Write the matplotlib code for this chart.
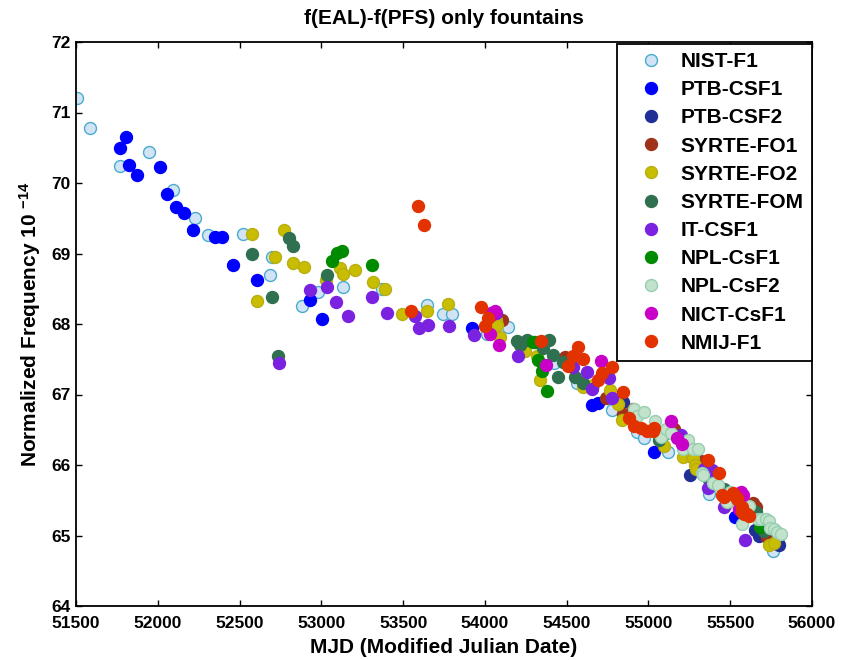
import matplotlib
matplotlib.use('Agg')
import matplotlib.pyplot as plt

plt.rcParams['font.family'] = ['Liberation Sans', 'DejaVu Sans']
plt.rcParams['font.weight'] = 'bold'
plt.rcParams['mathtext.fontset'] = 'custom'
plt.rcParams['mathtext.rm'] = 'Liberation Sans:bold'
plt.rcParams['mathtext.bf'] = 'Liberation Sans:bold'
plt.rcParams['mathtext.default'] = 'bf'

# ---------------- data (MJD, normalized frequency 1e-14) ----------------
nist_mjd = [51506, 51586, 51771, 51946, 52095, 52228, 52307, 52523, 52686, 52697, 52880, 52981,
            53134, 53369, 53648, 53742, 53801, 54011, 54139, 54422, 54561, 54779, 54928, 54973,
            55122, 55370, 55763]
nist_val = [71.21, 70.78, 70.24, 70.44, 69.90, 69.51, 69.26, 69.27, 68.70, 68.95, 68.26, 68.46,
            68.52, 68.49, 68.27, 68.14, 68.14, 67.86, 67.96, 67.45, 67.16, 66.78, 66.47, 66.39,
            66.18, 65.59, 64.78]

ptb1_mjd = [51767, 51806, 51826, 51871, 52014, 52056, 52113, 52158, 52217, 52350, 52391, 52462,
            52609, 52931, 53006, 53919, 54653, 54690, 55034, 55527]
ptb1_val = [70.49, 70.65, 70.25, 70.12, 70.23, 69.84, 69.66, 69.58, 69.34, 69.24, 69.23, 68.84,
            68.63, 68.34, 68.07, 67.94, 66.85, 66.88, 66.19, 65.26]

ptb2_mjd = [54846, 55257, 55651, 55676, 55794, 55800]
ptb2_val = [66.90, 65.86, 65.08, 64.99, 64.89, 64.87]

fo1_mjd = [54102, 54490, 54738, 54846, 54903, 55159, 55292, 55324, 55641, 55656, 55723]
fo1_val = [68.06, 67.53, 66.95, 66.73, 66.79, 66.51, 66.07, 66.05, 65.46, 65.40, 64.98]

fo2_mjd = [52578, 52609, 52717, 52774, 52825, 52896, 53029, 53114, 53134, 53206, 53314, 53387,
           53491, 53648, 53772, 54068, 54076, 54092, 54245, 54317, 54337, 54598, 54663, 54765,
           54815, 54840, 55093, 55210, 55264, 55272, 55285, 55292, 55478, 55692, 55738, 55769]
fo2_val = [69.28, 68.32, 68.95, 69.33, 68.86, 68.81, 68.62, 68.79, 68.71, 68.76, 68.59, 68.49,
           68.14, 68.19, 68.29, 68.06, 67.99, 67.81, 67.61, 67.55, 67.20, 67.10, 67.13, 67.06,
           66.87, 66.64, 66.27, 66.12, 66.12, 66.10, 66.00, 65.95, 65.46, 65.10, 64.86, 64.90]

fom_mjd = [52578, 52700, 52737, 52802, 52825, 53033, 54194, 54215, 54259, 54306, 54357, 54394,
           54418, 54445, 54475, 54551, 54598, 55066, 55366, 55459, 55656, 55707]
fom_val = [69.00, 68.39, 67.54, 69.22, 69.11, 68.70, 67.76, 67.70, 67.77, 67.74, 67.66, 67.77,
           67.56, 67.25, 67.46, 67.25, 67.16, 66.36, 65.81, 65.66, 65.33, 65.06]

it_mjd = [52743, 52931, 53033, 53090, 53165, 53310, 53403, 53573, 53597, 53650, 53780, 53933,
          54068, 54204, 54537, 54622, 54655, 54759, 54779, 55200, 55340, 55366, 55386, 55459, 55589]
it_val = [67.45, 68.48, 68.52, 68.31, 68.12, 68.39, 68.15, 68.11, 67.94, 67.99, 67.97, 67.85,
          68.16, 67.55, 67.39, 67.32, 67.08, 67.24, 66.95, 66.42, 65.94, 65.67, 65.93, 65.40, 64.94]

npl1_mjd = [53063, 53094, 53128, 53308, 54296, 54327, 54351, 54381, 55087, 55590, 55682]
npl1_val = [68.89, 69.01, 69.03, 68.83, 67.74, 67.49, 67.33, 67.05, 66.43, 65.29, 65.12]

npl2_mjd = [54910, 54928, 54972, 55039, 55077, 55107, 55138, 55210, 55241, 55272, 55302, 55325,
            55334, 55397, 55427, 55478, 55500, 55531, 55572, 55614, 55672, 55686, 55719, 55738,
            55743, 55769, 55788, 55810]
npl2_val = [66.79, 66.69, 66.75, 66.63, 66.40, 66.51, 66.46, 66.22, 66.36, 66.22, 66.23, 65.88,
            65.86, 65.74, 65.71, 65.48, 65.62, 65.57, 65.16, 65.42, 65.24, 65.23, 65.23, 65.21,
            65.10, 65.09, 65.05, 65.02]

nict_mjd = [54031, 54035, 54040, 54061, 54084, 54374, 54712, 55138, 55176, 55204, 55551, 55564, 55576]
nict_val = [67.86, 68.13, 68.15, 68.18, 67.70, 67.42, 67.47, 66.62, 66.38, 66.30, 65.38, 65.61, 65.58]

nmij_mjd = [53548, 53593, 53628, 53976, 54001, 54021, 54343, 54510, 54537, 54569, 54602, 54693,
            54718, 54777, 54842, 54880, 54910, 54952, 54993, 55025, 55034, 55366, 55432, 55448,
            55465, 55519, 55521, 55540, 55541, 55570, 55573, 55583, 55601, 55614]
nmij_val = [68.18, 69.68, 69.41, 68.24, 67.97, 68.08, 67.76, 67.40, 67.55, 67.67, 67.50, 67.21,
            67.30, 67.39, 67.04, 66.67, 66.55, 66.53, 66.48, 66.48, 66.53, 66.07, 65.88, 65.57,
            65.55, 65.60, 65.57, 65.53, 65.52, 65.34, 65.40, 65.30, 65.30, 65.28]

series_names = ['NIST-F1', 'PTB-CSF1', 'PTB-CSF2', 'SYRTE-FO1', 'SYRTE-FO2', 'SYRTE-FOM',
                'IT-CSF1', 'NPL-CsF1', 'NPL-CsF2', 'NICT-CsF1', 'NMIJ-F1']
series_x = [nist_mjd, ptb1_mjd, ptb2_mjd, fo1_mjd, fo2_mjd, fom_mjd, it_mjd, npl1_mjd, npl2_mjd,
            nict_mjd, nmij_mjd]
series_y = [nist_val, ptb1_val, ptb2_val, fo1_val, fo2_val, fom_val, it_val, npl1_val, npl2_val,
            nict_val, nmij_val]

face_colors = ['#d2e3f5', '#0000ff', '#1f2f96', '#a0321a', '#c8bd00', '#2f7050',
               '#7a22e0', '#008a00', '#c2e2cc', '#c800c8', '#e23200']
edge_colors = ['#4aaccc', '#0000ff', '#1f2f96', '#a0321a', '#b8ae10', '#2f7050',
               '#7a22e0', '#008a00', '#96ceb0', '#c800c8', '#e23200']

x_ticks = [51500, 52000, 52500, 53000, 53500, 54000, 54500, 55000, 55500, 56000]
y_ticks = [64, 65, 66, 67, 68, 69, 70, 71, 72]

# ---------------- figure ----------------
fig = plt.figure(figsize=(8.45, 6.6), dpi=100)
ax = fig.add_axes([76 / 845, 1 - 606 / 660, (812 - 76) / 845, (606 - 42) / 660])

for name, xs, ys, fc, ec in zip(series_names, series_x, series_y, face_colors, edge_colors):
    ax.plot(xs, ys, linestyle='none', marker='o', markersize=8.6,
            markerfacecolor=fc, markeredgecolor=ec, markeredgewidth=1.0, label=name)

ax.set_xlim(51500, 56000)
ax.set_ylim(64, 72)
ax.set_xticks(x_ticks)
ax.set_yticks(y_ticks)
ax.tick_params(direction='in', top=True, right=True, length=4, width=1.0,
               labelsize=12.5)
ax.tick_params(axis='x', pad=7)
ax.tick_params(axis='y', pad=4)
for lbl in ax.get_xticklabels() + ax.get_yticklabels():
    lbl.set_fontweight('bold')
for sp in ax.spines.values():
    sp.set_linewidth(1.3)

ax.set_title('f(EAL)-f(PFS) only fountains', fontsize=15, fontweight='bold', pad=13)
ax.set_xlabel('MJD (Modified Julian Date)', fontsize=15, fontweight='bold', labelpad=5)
ax.set_ylabel('Normalized Frequency 10 $^{-14}$', fontsize=15, fontweight='bold', labelpad=6)

leg = ax.legend(loc='upper right', bbox_to_anchor=(1.0, 0.997), borderaxespad=0,
                prop={'size': 15, 'weight': 'bold'}, frameon=True, fancybox=False,
                framealpha=1, edgecolor='black', borderpad=0.4, handlelength=2.45,
                handletextpad=0.2, labelspacing=0.44, numpoints=1)
leg.get_frame().set_linewidth(1.3)

fig.savefig('out.png', dpi=100)
